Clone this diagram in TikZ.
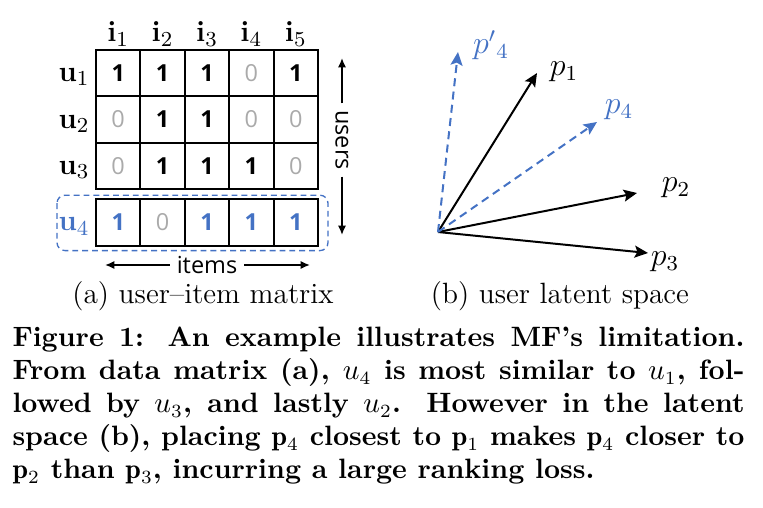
\documentclass[tikz,border=0pt]{standalone}
\usepackage{fontspec}
\newfontfamily\cellfont{Open Sans}
\usepackage{tikz}
\usetikzlibrary{arrows.meta, positioning, calc}
\definecolor{mfblue}{RGB}{68,114,196}
\definecolor{zerogray}{RGB}{170,170,170}
\tikzset{
    cell/.style={rectangle, draw=black, line width=0.8pt, minimum width=16.65pt, minimum height=17.4pt, inner sep=0pt, outer sep=0pt, font=\cellfont\fontsize{8.8pt}{10pt}\selectfont\bfseries},
    zero/.style={cell, text=zerogray, font=\cellfont\fontsize{8.8pt}{10pt}\selectfont},
    hit/.style={cell, text=mfblue},
    head/.style={font=\fontsize{11pt}{13pt}\selectfont, inner sep=0pt},
    axis/.style={font=\cellfont\fontsize{8.8pt}{10pt}\selectfont, inner sep=2.4pt},
    twoway/.style={line width=0.6pt, -{Latex[length=3.5pt,width=3pt]}},
    vec/.style={line width=0.75pt, -{Stealth[length=5pt,width=4.5pt,inset=1pt]}},
    vecdash/.style={vec, draw=mfblue, dash pattern=on 3pt off 2pt},
    plabel/.style={font=\fontsize{11.5pt}{13pt}\selectfont, inner sep=0pt},
    sub/.style={font=\fontsize{11pt}{13pt}\selectfont, inner sep=0pt},
    selbox/.style={draw=mfblue, line width=0.5pt, rounded corners=3pt, dash pattern=on 2.2pt off 1.5pt}
}

\begin{document}
\begin{tikzpicture}[x=0.375pt, y=-0.375pt]
    \useasboundingbox (0,0) rectangle (763,508);

    % user-item matrix
    \node (c11) [cell] at (118.2,73.2) {1};
    \node (c12) [cell, right=0pt of c11] {1};
    \node (c13) [cell, right=0pt of c12] {1};
    \node (c14) [zero, right=0pt of c13] {0};
    \node (c15) [cell, right=0pt of c14] {1};

    \node (c21) [zero, below=0pt of c11] {0};
    \node (c22) [cell, right=0pt of c21] {1};
    \node (c23) [cell, right=0pt of c22] {1};
    \node (c24) [zero, right=0pt of c23] {0};
    \node (c25) [zero, right=0pt of c24] {0};

    \node (c31) [zero, below=0pt of c21] {0};
    \node (c32) [cell, right=0pt of c31] {1};
    \node (c33) [cell, right=0pt of c32] {1};
    \node (c34) [cell, right=0pt of c33] {1};
    \node (c35) [zero, right=0pt of c34] {0};

    \node (c41) [hit, below=3.75pt of c31] {1};
    \node (c42) [zero, right=0pt of c41] {0};
    \node (c43) [hit, right=0pt of c42] {1};
    \node (c44) [hit, right=0pt of c43] {1};
    \node (c45) [hit, right=0pt of c44] {1};

    % item and user labels
    \node (i1) [head, above=1.2pt of c11] {\textbf{i}$_1$};
    \node (i2) [head, above=1.2pt of c12] {\textbf{i}$_2$};
    \node (i3) [head, above=1.2pt of c13] {\textbf{i}$_3$};
    \node (i4) [head, above=1.2pt of c14] {\textbf{i}$_4$};
    \node (i5) [head, above=1.2pt of c15] {\textbf{i}$_5$};

    \node (u1) [head, left=2.2pt of c11, yshift=-1.5pt] {\textbf{u}$_1$};
    \node (u2) [head, left=2.2pt of c21, yshift=-1.5pt] {\textbf{u}$_2$};
    \node (u3) [head, left=2.2pt of c31, yshift=-1.5pt] {\textbf{u}$_3$};
    \node (u4) [head, left=2.2pt of c41, yshift=-1.5pt, text=mfblue] {\textbf{u}$_4$};

    \draw [selbox] ($(c41.north west)+(-39,-4)$) rectangle ($(c45.south east)+(10,5)$);

    % axes
    \node (users) [axis, rotate=-90] at (342,140) {users};
    \coordinate (utop) at (342,58);
    \coordinate (ubot) at (342,235);
    \draw [twoway] (users) -- (utop);
    \draw [twoway] (users) -- (ubot);

    \node (items) [axis] at (207,265) {items};
    \coordinate (ileft) at (105,265);
    \coordinate (iright) at (310,265);
    \draw [twoway] (items) -- (ileft);
    \draw [twoway] (items) -- (iright);

    % latent space
    \coordinate (o) at (438,232);
    \coordinate (p1) at (537,73);
    \coordinate (p2) at (637,193);
    \coordinate (p3) at (648,253);
    \coordinate (p4) at (597,122);
    \coordinate (p4new) at (458,52);

    \draw [vec] (o) -- (p1);
    \draw [vec] (o) -- (p2);
    \draw [vec] (o) -- (p3);
    \draw [vecdash] (o) -- (p4);
    \draw [vecdash] (o) -- (p4new);

    \node (p1lab) [plabel] at (564,72) {$p_1$};
    \node (p2lab) [plabel] at (676,188) {$p_2$};
    \node (p3lab) [plabel] at (665,262) {$p_3$};
    \node (p4lab) [plabel, text=mfblue] at (619,110) {$p_4$};
    \node (p4newlab) [plabel, text=mfblue] at (491,45) {$p'{}_4$};

    % sub captions
    \node (capa) [sub] at (203,296) {(a) user--item matrix};
    \node (capb) [sub] at (560,296) {(b) user latent space};

    \node (cap) [anchor=north west, text width=274.5pt, align=justify, inner sep=0pt, font=\fontsize{10.5pt}{12.4pt}\selectfont\bfseries] at (12,326.5) {Figure 1: An example illustrates MF's limitation. From data matrix (a), $u_4$ is most similar to $u_1$, fol-\linebreak lowed by $u_3$, and lastly $u_2$. However in the latent space (b), placing $\mathbf{p}_4$ closest to $\mathbf{p}_1$ makes $\mathbf{p}_4$ closer to $\mathbf{p}_2$ than $\mathbf{p}_3$, incurring a large ranking loss.};
\end{tikzpicture}
\end{document}
